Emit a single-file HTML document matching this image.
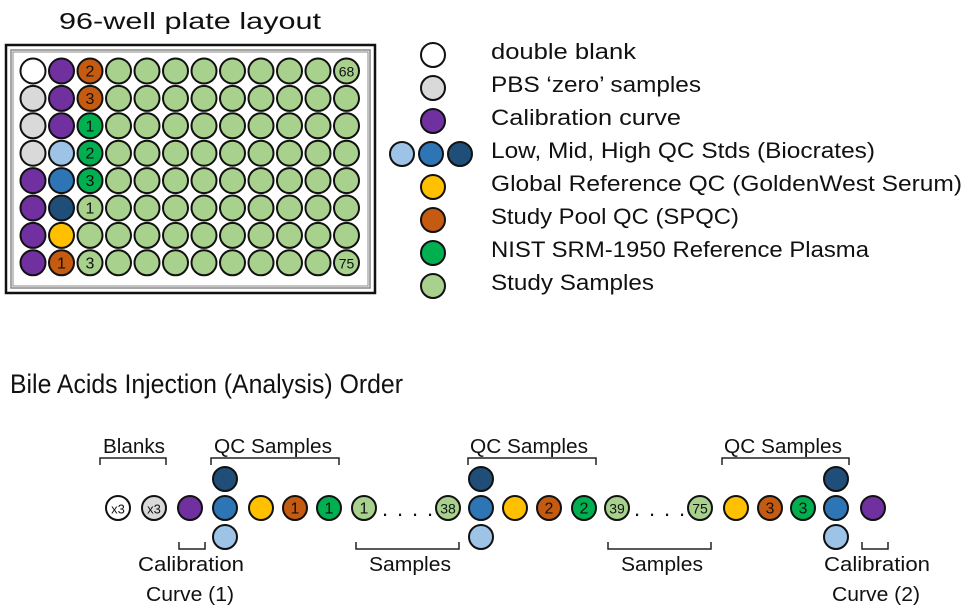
<!DOCTYPE html>
<html><head><meta charset="utf-8"><style>html,body{margin:0;padding:0;background:#fff}svg{display:block}text{font-family:"Liberation Sans",sans-serif;fill:#111}</style></head><body>
<svg width="979" height="616" viewBox="0 0 979 616" xmlns="http://www.w3.org/2000/svg">
<defs><style>circle{stroke:#111;stroke-width:2}.n{text-anchor:middle}.b{fill:none;stroke:#222;stroke-width:1.5}</style></defs>
<text x="190" y="29" font-size="23" text-anchor="middle" textLength="262" lengthAdjust="spacingAndGlyphs">96-well plate layout</text>
<rect x="6" y="45" width="369" height="248" fill="none" stroke="#111" stroke-width="2.5"/>
<rect x="11" y="50" width="359" height="238" fill="none" stroke="#888" stroke-width="1.5"/>
<rect x="13" y="52" width="355" height="234" fill="none" stroke="#888" stroke-width="1"/>
<g id="wells"></g>
<g font-size="22">
<text x="491" y="59" textLength="145" lengthAdjust="spacingAndGlyphs">double blank</text>
<text x="491" y="92" textLength="210" lengthAdjust="spacingAndGlyphs">PBS ‘zero’ samples</text>
<text x="491" y="125" textLength="190" lengthAdjust="spacingAndGlyphs">Calibration curve</text>
<text x="491" y="158" textLength="384" lengthAdjust="spacingAndGlyphs">Low, Mid, High QC Stds (Biocrates)</text>
<text x="491" y="191" textLength="471" lengthAdjust="spacingAndGlyphs">Global Reference QC (GoldenWest Serum)</text>
<text x="491" y="224" textLength="248" lengthAdjust="spacingAndGlyphs">Study Pool QC (SPQC)</text>
<text x="491" y="257" textLength="378" lengthAdjust="spacingAndGlyphs">NIST SRM-1950 Reference Plasma</text>
<text x="491" y="290" textLength="163" lengthAdjust="spacingAndGlyphs">Study Samples</text>
</g>
<circle cx="433" cy="55" r="12" fill="#fff"/>
<circle cx="433" cy="88" r="12" fill="#d9d9d9"/>
<circle cx="433" cy="121" r="12" fill="#7030a0"/>
<circle cx="402" cy="154" r="12" fill="#9dc3e6"/>
<circle cx="431" cy="154" r="12" fill="#2e75b6"/>
<circle cx="460" cy="154" r="12" fill="#1f4e79"/>
<circle cx="433" cy="187" r="12" fill="#ffc000"/>
<circle cx="433" cy="220" r="12" fill="#c55a11"/>
<circle cx="433" cy="253" r="12" fill="#00b050"/>
<circle cx="433" cy="286" r="12" fill="#a9d18e"/>
<text x="10" y="393" font-size="27" textLength="393" lengthAdjust="spacingAndGlyphs">Bile Acids Injection (Analysis) Order</text>
<path class="b" d="M100 465V458H166V465M211 465V458H339V465M468 465V458H596V465M722 465V458H849V465"/>
<path class="b" d="M179 542V549H205V542M356 542V549H459V542M608 542V549H711V542M862 542V549H888V542"/>
<g font-size="20">
<text x="103" y="453" textLength="62" lengthAdjust="spacingAndGlyphs">Blanks</text>
<text x="214" y="453" textLength="118" lengthAdjust="spacingAndGlyphs">QC Samples</text>
<text x="470" y="453" textLength="118" lengthAdjust="spacingAndGlyphs">QC Samples</text>
<text x="724" y="453" textLength="118" lengthAdjust="spacingAndGlyphs">QC Samples</text>
<text x="138" y="571" textLength="106" lengthAdjust="spacingAndGlyphs">Calibration</text>
<text x="146" y="601" textLength="88" lengthAdjust="spacingAndGlyphs">Curve (1)</text>
<text x="369" y="571" textLength="82" lengthAdjust="spacingAndGlyphs">Samples</text>
<text x="621" y="571" textLength="82" lengthAdjust="spacingAndGlyphs">Samples</text>
<text x="824" y="571" textLength="106" lengthAdjust="spacingAndGlyphs">Calibration</text>
<text x="832" y="601" textLength="88" lengthAdjust="spacingAndGlyphs">Curve (2)</text>
</g>
<g id="seq"></g>
<g font-size="22"><text x="385" y="516" text-anchor="middle">.</text><text x="400" y="516" text-anchor="middle">.</text><text x="415" y="516" text-anchor="middle">.</text><text x="430" y="516" text-anchor="middle">.</text>
<text x="637" y="516" text-anchor="middle">.</text><text x="652" y="516" text-anchor="middle">.</text><text x="667" y="516" text-anchor="middle">.</text><text x="682" y="516" text-anchor="middle">.</text></g>
</svg>
<script>
var NS="http://www.w3.org/2000/svg";
function C(g,x,y,r,f,t,fs){var c=document.createElementNS(NS,"circle");c.setAttribute("cx",x);c.setAttribute("cy",y);c.setAttribute("r",r);c.setAttribute("fill",f);g.appendChild(c);
if(t){var e=document.createElementNS(NS,"text");e.setAttribute("x",x);e.setAttribute("y",y+5.5);e.setAttribute("class","n");e.setAttribute("font-size",fs||16);e.textContent=t;g.appendChild(e);}}
var W=document.getElementById("wells");
var col1=["#fff","#d9d9d9","#d9d9d9","#d9d9d9","#7030a0","#7030a0","#7030a0","#7030a0"];
var col2=["#7030a0","#7030a0","#7030a0","#9dc3e6","#2e75b6","#1f4e79","#ffc000","#c55a11"];
var col3=["#c55a11","#c55a11","#00b050","#00b050","#00b050","#a9d18e","#a9d18e","#a9d18e"];
var t2=["","","","","","","","1"],t3=["2","3","1","2","3","1","","3"];
var LG="#a9d18e";
for(var r=0;r<8;r++){var y=71+r*27.4;
for(var c=0;c<12;c++){var x=33+c*28.5;var f=LG,t="";
if(c==0)f=col1[r];else if(c==1){f=col2[r];t=t2[r];}else if(c==2){f=col3[r];t=t3[r];}
else if(c==11&&r==0)t="68";else if(c==11&&r==7)t="75";
C(W,x,y,12.5,f,t,t.length>1?14:16);}}
var S=document.getElementById("seq"),Y=508;
C(S,118,Y,12,"#fff","x3",13);C(S,154,Y,12,"#d9d9d9","x3",13);C(S,190,Y,12,"#7030a0");
[225,481,836].forEach(function(x){C(S,x,479,12,"#1f4e79");C(S,x,Y,12,"#2e75b6");C(S,x,537,12,"#9dc3e6");});
C(S,261,Y,12,"#ffc000");C(S,295,Y,12,"#c55a11","1");C(S,329,Y,12,"#00b050","1");
C(S,364,Y,12,LG,"1");C(S,448,Y,12,LG,"38",14);
C(S,515,Y,12,"#ffc000");C(S,549,Y,12,"#c55a11","2");C(S,584,Y,12,"#00b050","2");
C(S,617,Y,12,LG,"39",14);C(S,700,Y,12,LG,"75",14);
C(S,736,Y,12,"#ffc000");C(S,770,Y,12,"#c55a11","3");C(S,803,Y,12,"#00b050","3");
C(S,873,Y,12,"#7030a0");
</script>
</body></html>
